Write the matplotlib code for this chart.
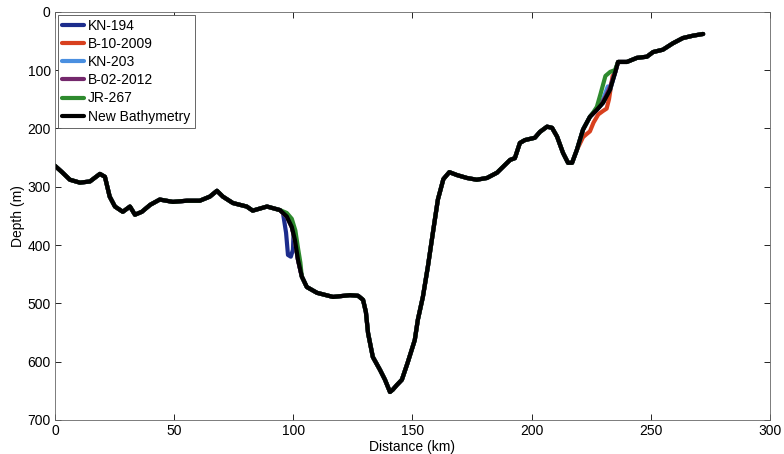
"""
Bathymetry profile along the survey track: several ship surveys and the
merged "New Bathymetry" line drawn on top.
"""
import numpy as np
import matplotlib
matplotlib.use("Agg")
import matplotlib.pyplot as plt

plt.rcParams.update({"font.family": ["Liberation Sans", "DejaVu Sans"],
                     "font.size": 10})

# ----------------------------------------------------------------------
# shared track: distance (km) and depth (m)
TRACK_KM = [0, 3, 6.3, 10.5, 14.7, 18.9, 21, 23, 25.2, 28.5, 31.5, 33.6, 36.5,
            40, 44, 49.5, 55.4, 60.8, 65, 68, 70.5, 74.7, 80.5, 83, 89, 94.4,
            97.3, 99.4, 100.7, 102, 103.6, 105.7, 110, 116.7, 123.8, 127.2,
            129.3, 130.5, 131.4, 133.4, 136.4, 138.5, 140.6, 141.8, 143.5,
            145.6, 148, 151, 152.3, 154.4, 156.5, 158.6, 160.7, 163, 165.5,
            168.7, 172.9, 177, 181.3, 185.5, 188, 191, 193, 195.1, 197.2,
            201.4, 203.5, 206.5, 208.6, 210.7, 213.2, 215.3, 217, 219, 221.6,
            224.5, 227.4, 230, 232.9, 235, 236.3, 240, 244.2, 248.4, 251,
            255.1, 259.3, 263.5, 267.7, 272]
TRACK_DEPTH = [264, 275, 288, 293, 291, 278, 283, 317, 334, 343, 334, 348, 343,
               331, 322, 326, 324, 324, 317, 307, 317, 328, 334, 341, 334, 340,
               351, 369, 391, 425, 454, 472, 482, 489, 486, 487,
               494, 515, 551, 592, 614, 631, 652, 648, 640,
               631, 602, 563, 528, 489, 437, 379, 322, 287, 275,
               280, 285, 288, 285, 276, 266, 254, 251, 225, 220,
               216, 206, 197, 199, 214, 242, 259, 259, 237, 202,
               180, 168, 156, 134, 105, 86, 86, 79, 77, 69,
               65, 54, 45, 41, 38]

# local stretches where a survey departs from the shared track
KN194_KM    = [95.7, 97.0, 97.8, 99.0, 99.9, 100.2]
KN194_DEPTH = [345, 379, 417, 420, 408, 372]
B2009_KM    = [221.6, 223.0, 224.5, 226.0, 228.0, 230.0, 231.5, 232.5, 234.0]
B2009_DEPTH = [215, 210, 205, 190, 176, 170, 166, 150, 110]
KN203_KM    = [227.4, 230.0, 232.0]
KN203_DEPTH = [165, 150, 128]
B2012_KM    = [229.0, 231.0, 233.0]
B2012_DEPTH = [160, 146, 128]
JR267_KM    = [97.3, 99.4, 100.9, 102.0, 103.0, 226.0, 227.4, 229.0, 231.0,
               233.0, 235.0]
JR267_DEPTH = [345, 355, 375, 405, 430, 172, 163, 140, 110, 103, 100]

SURVEYS = [("KN-194", KN194_KM, KN194_DEPTH, "#1c2c8c"),
           ("B-10-2009", B2009_KM, B2009_DEPTH, "#d8401e"),
           ("KN-203", KN203_KM, KN203_DEPTH, "#4a8fe0"),
           ("B-02-2012", B2012_KM, B2012_DEPTH, "#74286c"),
           ("JR-267", JR267_KM, JR267_DEPTH, "#2e8a2e")]


def survey_line(km, depth):
    """shared track with the survey's own points spliced in"""
    tk, td = np.array(TRACK_KM), np.array(TRACK_DEPTH)
    km, depth = np.array(km), np.array(depth)
    keep = np.ones(len(tk), bool)
    # split override points into contiguous stretches (gap > 20 km)
    breaks = np.where(np.diff(km) > 20)[0] + 1
    for seg in np.split(np.arange(len(km)), breaks):
        keep &= ~((tk > km[seg[0]] - 0.5) & (tk < km[seg[-1]] + 0.5))
    x = np.concatenate([tk[keep], km])
    y = np.concatenate([td[keep], depth])
    o = np.argsort(x)
    return x[o], y[o]


fig = plt.figure(figsize=(7.84, 4.54), dpi=100)
ax = fig.add_axes([0.070, 0.075, 0.912, 0.899])

style = dict(lw=3, solid_capstyle="round", solid_joinstyle="round")
for name, km, dep, col in SURVEYS:
    x, y = survey_line(km, dep)
    ax.plot(x, y, color=col, label=name, **style)
ax.plot(TRACK_KM, TRACK_DEPTH, color="black", label="New Bathymetry", **style)

ax.set_xlim(0, 300)
ax.set_ylim(700, 0)
ax.set_xticks(range(0, 301, 50))
ax.set_yticks(range(0, 701, 100))
ax.tick_params(direction="in", top=True, right=True, length=4, width=0.6,
               labelsize=10, pad=3)
for s in ax.spines.values():
    s.set_linewidth(0.6)
    s.set_color("0.4")
ax.set_xlabel("Distance (km)", labelpad=1)
ax.set_ylabel("Depth (m)", labelpad=2)

leg = ax.legend(loc="upper left", fontsize=10, fancybox=False,
                edgecolor="0.3", framealpha=1, labelspacing=0.3,
                handlelength=1.6, handletextpad=0.3, borderpad=0.3,
                borderaxespad=0.2)
leg.get_frame().set_linewidth(0.6)

fig.savefig("out.png", dpi=100)
